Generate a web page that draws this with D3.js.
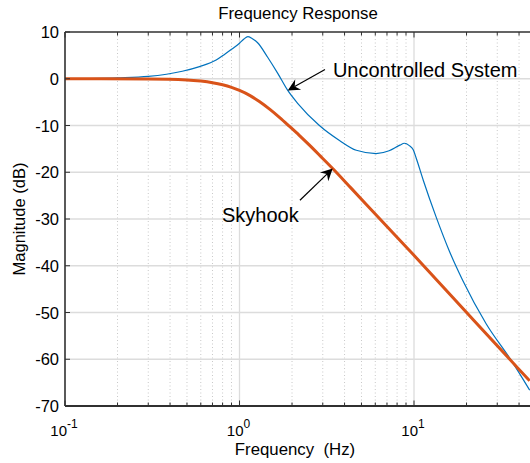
<!DOCTYPE html>
<html><head><meta charset="utf-8">
<script src="https://cdn.jsdelivr.net/npm/d3@7"></script>
<style>body{margin:0;background:#fff}svg{display:block}</style>
</head><body>
<svg id="c" width="530" height="463"></svg>
<script>
// ---- data ----
const titleText = "Frequency Response";
const xLabelText = "Frequency  (Hz)";
const yLabelText = "Magnitude (dB)";
const yTickValues = [10, 0, -10, -20, -30, -40, -50, -60, -70];
const xDecades = [0.1, 1, 10];
const xDecadeExp = ["-1", "0", "1"];
const uncFreq = [0.1, 0.2, 0.3, 0.47, 0.59, 0.735, 0.82, 0.9, 1.0, 1.06, 1.116, 1.18, 1.27, 1.45, 1.66, 1.89, 2.16, 2.87, 3.74, 4.67, 6.07, 7.2, 8.3, 8.81, 9.4, 9.9, 10.3, 11.3, 13.4, 16, 19.0, 25.9, 36.0, 46];
const uncMag  = [0.0, 0.2, 0.5, 1.6, 2.6, 4.0, 5.2, 6.3, 7.6, 8.5, 9.0, 8.6, 7.7, 4.6, 1.1, -2.5, -5.3, -10.0, -13.2, -15.3, -16.0, -15.4, -14.2, -13.8, -14.3, -15.2, -17.0, -21.7, -29.6, -37.0, -43.1, -52.4, -60.2, -66.6];
const skyFreq = [0.1, 0.3, 0.5, 0.6, 0.7, 0.8, 0.9, 1.0, 1.15, 1.3, 1.5, 1.7, 1.93, 2.2, 2.5, 2.9, 3.43, 4.36, 6.34, 9.9, 19.9, 39.3, 46];
const skyMag  = [0.0, -0.05, -0.25, -0.5, -0.85, -1.3, -1.85, -2.5, -3.6, -4.85, -6.6, -8.3, -10.15, -12.1, -14.1, -16.5, -19.25, -23.4, -29.9, -37.6, -49.9, -61.85, -64.6];
const uncLabel = "Uncontrolled System";
const skyLabel = "Skyhook";
// annotation anchor points in data units [freq, dB]
const uncLabelAt = [3.43, 0.35];
const uncArrow = [[3.09, 2.0], [1.89, -2.5]];
const skyLabelAt = [0.794, -30.7];
const skyArrow = [[2.22, -26.0], [3.42, -19.2]];

// ---- layout ----
const W = 530, H = 463;
const mLeft = 65, mTop = 32, mBottom = 406, mRight = 530;
const decade = 174.5;
const font = "'Liberation Sans', Arial, Helvetica, sans-serif";
const axisColor = "#303030";
const svg = d3.select("#c");

const x = d3.scaleLog().domain([0.1, 100]).range([mLeft, mLeft + 3 * decade]);
const y = d3.scaleLinear().domain([-70, 10]).range([mBottom, mTop]);

svg.append("defs").append("clipPath").attr("id", "clip")
  .append("rect").attr("x", mLeft).attr("y", mTop).attr("width", mRight - mLeft).attr("height", mBottom - mTop);

// minor x ticks
const minor = [];
[0.1, 1, 10].forEach(d => { for (let k = 2; k <= 9; k++) { const v = d * k; if (x(v) <= mRight) minor.push(v); } });

const grid = svg.append("g");
grid.selectAll("line.minor").data(minor).enter().append("line")
  .attr("x1", d => x(d)).attr("x2", d => x(d)).attr("y1", mTop).attr("y2", mBottom)
  .attr("stroke", "#c8c8c8").attr("stroke-width", 1).attr("stroke-dasharray", "1,2.5");
grid.selectAll("line.ymaj").data(yTickValues.filter(v => v > -70 && v < 10)).enter().append("line")
  .attr("x1", mLeft).attr("x2", mRight).attr("y1", d => y(d)).attr("y2", d => y(d))
  .attr("stroke", "#dcdcdc").attr("stroke-width", 1.3);
grid.selectAll("line.xmaj").data(xDecades.slice(1)).enter().append("line")
  .attr("x1", d => x(d)).attr("x2", d => x(d)).attr("y1", mTop).attr("y2", mBottom)
  .attr("stroke", "#dcdcdc").attr("stroke-width", 1.3);

// curves
const line = (fs, ms) => d3.line().curve(d3.curveMonotoneX)
  .x((d, i) => x(fs[i])).y((d, i) => y(ms[i]))(fs);
const plot = svg.append("g").attr("clip-path", "url(#clip)");
plot.append("path").attr("d", line(uncFreq, uncMag)).attr("fill", "none")
  .attr("stroke", "#0072BD").attr("stroke-width", 1.2);
plot.append("path").attr("d", line(skyFreq, skyMag)).attr("fill", "none")
  .attr("stroke", "#D95319").attr("stroke-width", 3);

// axes lines
const ax = svg.append("g");
ax.append("line").attr("x1", mLeft).attr("x2", mRight).attr("y1", mBottom).attr("y2", mBottom).attr("stroke", axisColor).attr("stroke-width", 2);
ax.append("line").attr("x1", mLeft).attr("x2", mRight).attr("y1", mTop).attr("y2", mTop).attr("stroke", axisColor).attr("stroke-width", 1.3);
ax.append("line").attr("x1", mLeft).attr("x2", mLeft).attr("y1", mTop).attr("y2", mBottom).attr("stroke", axisColor).attr("stroke-width", 1.6);
// ticks
const tickG = ax.append("g").attr("stroke", axisColor).attr("stroke-width", 1);
minor.forEach(v => {
  tickG.append("line").attr("x1", x(v)).attr("x2", x(v)).attr("y1", mBottom).attr("y2", mBottom - 3.5);
  tickG.append("line").attr("x1", x(v)).attr("x2", x(v)).attr("y1", mTop).attr("y2", mTop + 3.5);
});
xDecades.forEach(v => {
  tickG.append("line").attr("x1", x(v)).attr("x2", x(v)).attr("y1", mBottom).attr("y2", mBottom - 5.5);
  tickG.append("line").attr("x1", x(v)).attr("x2", x(v)).attr("y1", mTop).attr("y2", mTop + 5.5);
});
yTickValues.forEach(v => {
  tickG.append("line").attr("x1", mLeft).attr("x2", mLeft + 5).attr("y1", y(v)).attr("y2", y(v));
});

// y tick labels
svg.append("g").selectAll("text").data(yTickValues).enter().append("text")
  .attr("x", mLeft - 6).attr("y", d => y(d) + 6)
  .attr("text-anchor", "end").attr("font-family", font).attr("font-size", 16.5).attr("fill", "#000")
  .text(d => d);

// x tick labels with superscript
const xl = svg.append("g");
xDecades.forEach((v, i) => {
  const t = xl.append("text").attr("x", x(v) - 1).attr("y", 436).attr("text-anchor", "middle")
    .attr("font-family", font).attr("font-size", 15).attr("fill", "#000");
  t.append("tspan").text("10");
  t.append("tspan").attr("font-size", 12).attr("dy", -8).text(xDecadeExp[i]);
});

// title and labels
svg.append("text").attr("x", 298).attr("y", 19).attr("text-anchor", "middle")
  .attr("font-family", font).attr("font-size", 16.8).attr("fill", "#000").text(titleText);
svg.append("text").attr("x", 295).attr("y", 455).attr("text-anchor", "middle")
  .style("white-space", "pre")
  .attr("font-family", font).attr("font-size", 16.8).attr("fill", "#000").text(xLabelText);
svg.append("text").attr("transform", `translate(25,${(mTop + mBottom) / 2}) rotate(-90)`)
  .attr("text-anchor", "middle").attr("font-family", font).attr("font-size", 16.5).attr("fill", "#000").text(yLabelText);

// annotations
function arrow(p0, p1) {
  const x0 = x(p0[0]), y0 = y(p0[1]), x1 = x(p1[0]), y1 = y(p1[1]);
  const a = Math.atan2(y1 - y0, x1 - x0);
  const L = 12, Wd = 6, back = 8;
  const ux = Math.cos(a), uy = Math.sin(a), px = -uy, py = ux;
  const g = svg.append("g");
  g.append("line").attr("x1", x0).attr("y1", y0).attr("x2", x1 - ux * back).attr("y2", y1 - uy * back)
    .attr("stroke", "#000").attr("stroke-width", 1.2);
  const pts = [
    [x1, y1],
    [x1 - ux * L + px * Wd, y1 - uy * L + py * Wd],
    [x1 - ux * back, y1 - uy * back],
    [x1 - ux * L - px * Wd, y1 - uy * L - py * Wd]
  ];
  g.append("polygon").attr("points", pts.map(p => p.join(",")).join(" ")).attr("fill", "#000");
}
arrow(uncArrow[0], uncArrow[1]);
arrow(skyArrow[0], skyArrow[1]);
svg.append("text").attr("x", x(uncLabelAt[0])).attr("y", y(uncLabelAt[1]))
  .attr("font-family", font).attr("font-size", 20).attr("fill", "#000").text(uncLabel);
svg.append("text").attr("x", x(skyLabelAt[0])).attr("y", y(skyLabelAt[1]))
  .attr("font-family", font).attr("font-size", 20).attr("fill", "#000").text(skyLabel);
</script>
</body></html>
